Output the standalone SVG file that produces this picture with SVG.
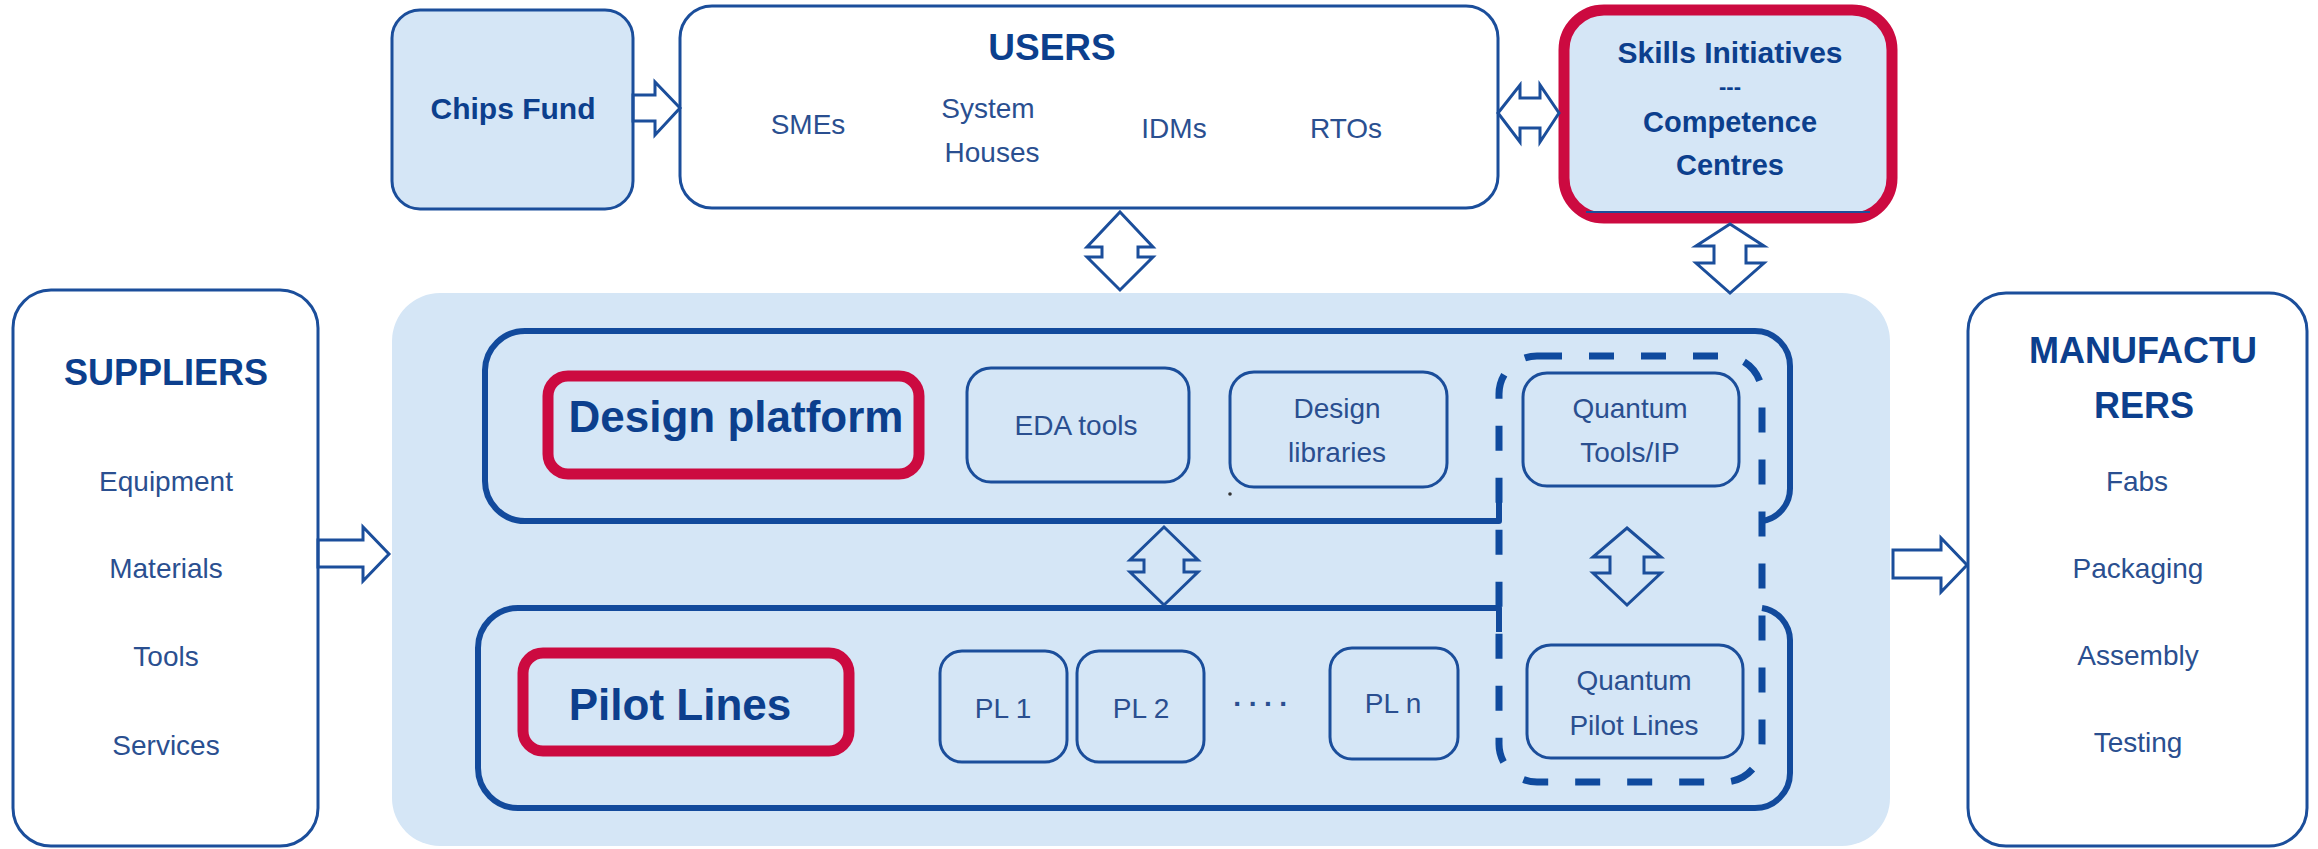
<svg xmlns="http://www.w3.org/2000/svg" width="2318" height="849" viewBox="0 0 2318 849">
<style>
.bx{fill:none;stroke:#1b4e9b;stroke-width:3}
.wbx{fill:#ffffff;stroke:#1b4e9b;stroke-width:3}
.lbx{fill:#d5e6f6;stroke:#1b4e9b;stroke-width:3}
.thick{fill:none;stroke:#124a9c;stroke-width:6;stroke-linejoin:round}
.dash{fill:none;stroke:#0f4a9e;stroke-width:7;stroke-dasharray:25 27}
.red{fill:none;stroke:#cc0a40;stroke-width:11}
.arr{fill:none;stroke:#1b4e9b;stroke-width:3;stroke-linejoin:miter}
text{font-family:"Liberation Sans",Arial,sans-serif;text-anchor:middle}
.t{font-size:28px;fill:#2a4f90}
.b{font-weight:bold;fill:#0c3f8d}
</style>
<rect x="0" y="0" width="2318" height="849" fill="#ffffff"/>

<g id="core-panel">
<rect x="392" y="293" width="1498" height="553" rx="48" fill="#d5e6f6"/>
</g>

<g id="chips-fund">
<rect class="lbx" x="392" y="10" width="241" height="199" rx="28"/>
<text class="b" x="513" y="119" font-size="30">Chips Fund</text>
</g>

<g id="users">
<rect class="wbx" x="680" y="6" width="818" height="202" rx="32"/>
<text class="b" x="1052" y="60" font-size="37">USERS</text>
<text class="t" x="808" y="134">SMEs</text>
<text class="t" x="988" y="118">System</text>
<text class="t" x="992" y="162">Houses</text>
<text class="t" x="1174" y="138">IDMs</text>
<text class="t" x="1346" y="138">RTOs</text>
</g>

<g id="skills">
<rect x="1564" y="10" width="328" height="208" rx="40" fill="#d5e6f6" stroke="#cc0a40" stroke-width="11"/>
<line x1="1586" y1="212" x2="1870" y2="212" stroke="#1b4e9b" stroke-width="2"/>
<text class="b" x="1730" y="63" font-size="30">Skills Initiatives</text>
<text class="b" x="1730" y="94" font-size="22">---</text>
<text class="b" x="1730" y="132" font-size="29">Competence</text>
<text class="b" x="1730" y="175" font-size="29">Centres</text>
</g>

<g id="suppliers">
<rect class="wbx" x="13" y="290" width="305" height="556" rx="38"/>
<text class="b" x="166" y="385" font-size="36">SUPPLIERS</text>
<text class="t" x="166" y="491">Equipment</text>
<text class="t" x="166" y="578">Materials</text>
<text class="t" x="166" y="666">Tools</text>
<text class="t" x="166" y="755">Services</text>
</g>

<g id="manufacturers">
<rect class="wbx" x="1968" y="293" width="339" height="553" rx="38"/>
<text class="b" x="2143" y="363" font-size="36">MANUFACTU</text>
<text class="b" x="2144" y="418" font-size="36">RERS</text>
<text class="t" x="2137" y="491">Fabs</text>
<text class="t" x="2138" y="578">Packaging</text>
<text class="t" x="2138" y="665">Assembly</text>
<text class="t" x="2138" y="752">Testing</text>
</g>

<g id="design-platform">
<path class="thick" d="M1499,497 V521 H525 A40,40 0 0 1 485,481 V370 A40,40 0 0 1 525,331 H1755 A35,35 0 0 1 1790,366 V488 A33,33 0 0 1 1762,521"/>
<rect class="red" x="548" y="376" width="371" height="98" rx="20"/>
<text class="b" x="736" y="432" font-size="44">Design platform</text>
<circle cx="1230" cy="494" r="1.8" fill="#333333"/>
</g>

<g id="eda-tools">
<rect class="bx" x="967" y="368" width="222" height="114" rx="24"/>
<text class="t" x="1076" y="435">EDA tools</text>
</g>

<g id="design-libraries">
<rect class="bx" x="1230" y="372" width="217" height="115" rx="24"/>
<text class="t" x="1337" y="418">Design</text>
<text class="t" x="1337" y="462">libraries</text>
</g>

<g id="pilot-lines">
<path class="thick" d="M1499,632 V608 H518 A40,40 0 0 0 478,648 V768 A40,40 0 0 0 518,808 H1755 A35,35 0 0 0 1790,773 V640 A33,33 0 0 0 1762,608"/>
<rect class="red" x="523" y="653" width="326" height="98" rx="20"/>
<text class="b" x="680" y="720" font-size="44">Pilot Lines</text>
</g>

<g id="pl-1">
<rect class="bx" x="940" y="651" width="127" height="111" rx="22"/>
<text class="t" x="1003" y="718">PL 1</text>
</g>
<g id="pl-2">
<rect class="bx" x="1077" y="651" width="127" height="111" rx="22"/>
<text class="t" x="1141" y="718">PL 2</text>
</g>
<g id="pl-dots">
<text class="t" x="1264" y="713" font-weight="bold" letter-spacing="6">····</text>
</g>
<g id="pl-n">
<rect class="bx" x="1330" y="648" width="128" height="111" rx="22"/>
<text class="t" x="1393" y="713">PL n</text>
</g>

<g id="quantum">
<rect class="dash" x="1499" y="356" width="263" height="426" rx="38"/>
</g>
<g id="quantum-tools">
<rect class="bx" x="1523" y="373" width="216" height="113" rx="24"/>
<text class="t" x="1630" y="418">Quantum</text>
<text class="t" x="1630" y="462">Tools/IP</text>
</g>
<g id="quantum-pilot-lines">
<rect class="bx" x="1527" y="645" width="216" height="113" rx="24"/>
<text class="t" x="1634" y="690">Quantum</text>
<text class="t" x="1634" y="735">Pilot Lines</text>
</g>

<g id="connectors">
<polygon class="arr" points="633,95 655,95 655,82 680,108 655,135 655,121 633,121"/>
<polygon class="arr" points="1498,113 1520,85 1520,98 1540,98 1540,85 1559,113 1540,142 1540,128 1520,128 1520,142"/>
<polygon class="arr" points="1120,212 1153,247 1138,247 1138,257 1153,257 1120,290 1087,257 1102,257 1102,247 1087,247"/>
<polygon class="arr" points="1730,224 1764,246 1746,246 1746,263 1764,263 1730,293 1696,263 1714,263 1714,246 1696,246"/>
<polygon class="arr" points="318,540 363,540 363,527 389,554 363,581 363,567 318,567"/>
<polygon class="arr" points="1893,550 1941,550 1941,538 1967,565 1941,592 1941,578 1893,578"/>
<polygon class="arr" points="1164,527 1198,560 1184,560 1184,572 1198,572 1164,605 1130,572 1144,572 1144,560 1130,560"/>
<polygon class="arr" points="1627,528 1661,557 1644,557 1644,573 1661,573 1627,605 1593,573 1610,573 1610,557 1593,557"/>
</g>
</svg>
